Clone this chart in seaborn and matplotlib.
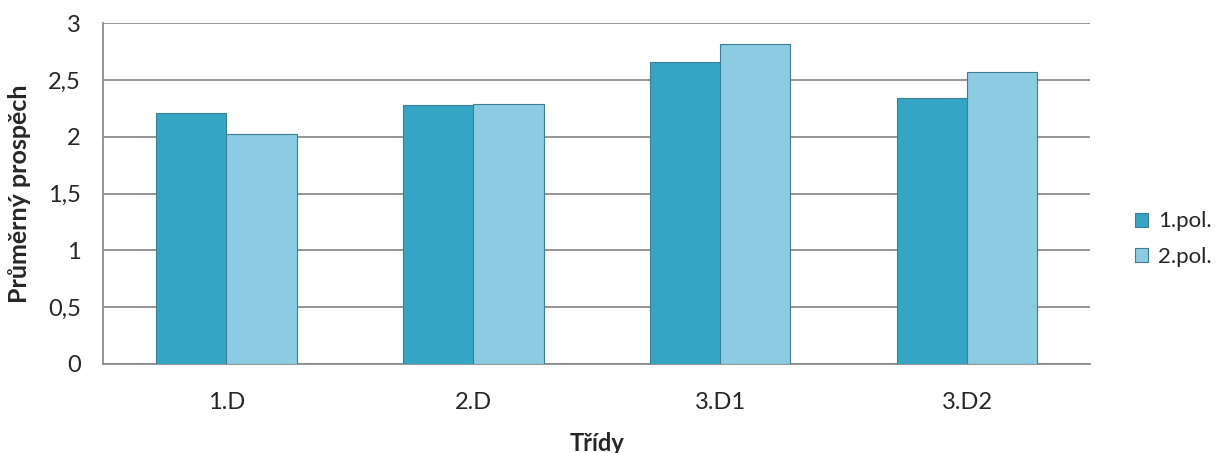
import seaborn as sns
import pandas as pd
import matplotlib.pyplot as plt
from matplotlib.ticker import FuncFormatter, MultipleLocator, FixedLocator

tridy = ["1.D", "2.D", "3.D1", "3.D2"]
pol1 = [2.21, 2.28, 2.66, 2.34]
pol2 = [2.02, 2.29, 2.82, 2.57]
serie = ["1.pol.", "2.pol."]

df = pd.DataFrame({
    "Třídy": tridy * 2,
    "prospěch": pol1 + pol2,
    "pololetí": [serie[0]] * len(tridy) + [serie[1]] * len(tridy),
})

sns.set_style("white")
plt.rcParams["font.family"] = ["Lato", "DejaVu Sans"]

fig = plt.figure(figsize=(12.21, 4.53), dpi=100)
ax = fig.add_axes([0.0844, 0.1965, 0.8086, 0.7525])

sns.barplot(data=df, x="Třídy", y="prospěch", hue="pololetí",
            palette=["#35a5c5", "#8ccce3"], saturation=1, width=0.57, gap=0,
            edgecolor="#3d7f92", linewidth=0.8, ax=ax, zorder=3)

ax.set_ylim(0, 3)
ax.set_xlim(-0.5, 3.5)
ax.yaxis.set_major_locator(MultipleLocator(0.5))
ax.yaxis.set_major_formatter(FuncFormatter(lambda v, p: f"{v:g}".replace(".", ",")))
ax.grid(axis="y", color="#8c8c8c", linewidth=1.3, zorder=0)
ax.set_axisbelow(True)

ax.xaxis.set_minor_locator(FixedLocator([-0.5, 0.5, 1.5, 2.5, 3.5]))
ax.tick_params(axis="x", which="major", length=0, labelsize=17, pad=20)
ax.tick_params(axis="x", which="minor", length=6, color="#8c8c8c", width=1.3)
ax.tick_params(axis="y", which="major", length=6, color="#8c8c8c", width=1.3,
               labelsize=17, pad=10)

for s in ["top", "right"]:
    ax.spines[s].set_visible(False)
for s in ["left", "bottom"]:
    ax.spines[s].set_color("#8c8c8c")
    ax.spines[s].set_linewidth(1.3)

ax.set_xlabel("Třídy", fontsize=17, fontweight="bold", labelpad=14)
ax.set_ylabel("Průměrný prospěch", fontsize=18, fontweight="bold", labelpad=12)

ax.legend(loc="center left", bbox_to_anchor=(1135 / 1221, 0.472),
          bbox_transform=fig.transFigure, frameon=False, borderpad=0,
          borderaxespad=0, fontsize=16, handlelength=0.6, handleheight=0.6,
          handletextpad=0.45, labelspacing=0.7)

fig.savefig("out.png", dpi=100)
